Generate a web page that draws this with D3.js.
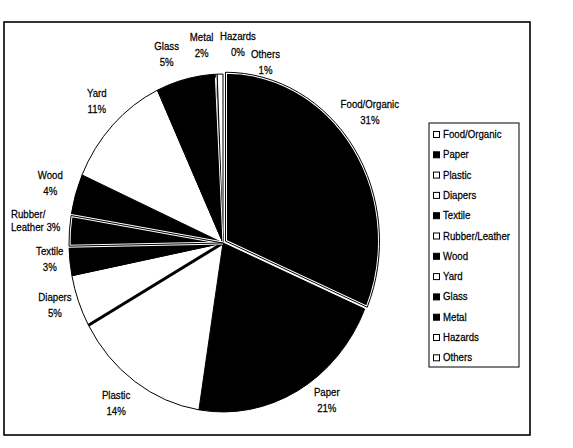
<!DOCTYPE html>
<html>
<head>
<meta charset="utf-8">
<script src="https://cdn.jsdelivr.net/npm/d3@7"></script>
<style>
  body { margin: 0; background: #fff; }
  text { font-family: "Liberation Sans Narrow", "Arial Narrow", "Liberation Sans", Arial, sans-serif; font-size: 11.5px; fill: #000; stroke: #000; stroke-width: 0.25px; }
</style>
</head>
<body>
<svg id="chart" width="573" height="448"></svg>
<script>
// waste composition, percent of total (slice sizes)
const categories = ["Food/Organic", "Paper", "Plastic", "Diapers", "Textile", "Rubber/Leather",
                    "Wood", "Yard", "Glass", "Metal", "Hazards", "Others"];
const shares = [31.4, 21.1, 14.4, 5.0, 2.8, 2.9, 4.0, 11.4, 4.6, 1.6, 0.2, 0.6];

const w = 573, h = 448;
const cx = 223, cy = 243;
const r = 154;
const sy = 1.097;          // scan is a bit taller than wide
const labelR = r * 1.19;
const narrow = 0.84;       // squeeze to look like Arial Narrow

// slice look in the pie (black/white print)
const pieFill = {
  "Food/Organic": "#000", "Paper": "#000", "Plastic": "#fff", "Diapers": "#fff",
  "Textile": "#000", "Rubber/Leather": "#000", "Wood": "#000", "Yard": "#fff",
  "Glass": "#000", "Metal": "#000", "Hazards": "#fff", "Others": "#fff"
};
const legendFilled = new Set(["Paper", "Textile", "Wood", "Glass", "Metal"]);
const whiteEdged = new Set(["Food/Organic", "Rubber/Leather"]);
const exploded = {"Food/Organic": 3};

// label nudges relative to the label arc
const nudge = {
  "Food/Organic": [-6, -20], "Paper": [15, -19], "Plastic": [-2, -5], "Diapers": [4, -7],
  "Textile": [9, -5], "Wood": [3, -3], "Yard": [5, -2], "Glass": [-3, 3],
  "Metal": [-3, 2], "Hazards": [23, 2], "Others": [46, 20]
};

const data = categories.map((c, i) => ({cat: c, v: shares[i]}));
const total = d3.sum(shares);
const pct = d3.format(".0%");

const svg = d3.select("#chart");

// condensed text block at x,y
function label(x, y, lines, anchor, lead) {
  const t = svg.append("g")
    .attr("transform", `translate(${x},${y}) scale(${narrow},1)`)
    .append("text").attr("text-anchor", anchor);
  lines.forEach((s, i) => t.append("tspan").attr("x", 0).attr("y", i * lead).text(s));
  return t;
}

// outer frame
svg.append("rect")
  .attr("x", 4).attr("y", 22).attr("width", 526).attr("height", 413)
  .attr("fill", "none").attr("stroke", "#000").attr("stroke-width", 1.6);

const pie = d3.pie().sort(null).value(d => d.v);
const arcs = pie(data);
const arc = d3.arc().innerRadius(0).outerRadius(r);

const g = svg.append("g").attr("transform", `translate(${cx},${cy}) scale(1,${sy})`);

function offset(d) {
  const e = exploded[d.data.cat] || 0;
  const a = (d.startAngle + d.endAngle) / 2;
  return `translate(${Math.sin(a) * e},${-Math.cos(a) * e})`;
}

g.selectAll("path.slice")
  .data(arcs)
  .join("path")
  .attr("class", "slice")
  .attr("d", arc)
  .attr("transform", offset)
  .attr("fill", d => pieFill[d.data.cat])
  .attr("stroke", "#000")
  .attr("stroke-width", 1)
  .attr("vector-effect", "non-scaling-stroke");

// heavy edge between plastic and diapers
const dia = arcs.find(d => d.data.cat === "Diapers");
g.append("line")
  .attr("x1", 0).attr("y1", 0)
  .attr("x2", Math.sin(dia.startAngle) * r).attr("y2", -Math.cos(dia.startAngle) * r)
  .attr("stroke", "#000").attr("stroke-width", 3)
  .attr("vector-effect", "non-scaling-stroke");

// thin white seam between metal and the small slices
const met = arcs.find(d => d.data.cat === "Metal");
g.append("line")
  .attr("x1", 0).attr("y1", 0)
  .attr("x2", Math.sin(met.endAngle) * (r - 3)).attr("y2", -Math.cos(met.endAngle) * (r - 3))
  .attr("stroke", "#fff").attr("stroke-width", 1)
  .attr("vector-effect", "non-scaling-stroke");

// slices printed with a white inner rim
const rim = g.selectAll("g.rim")
  .data(arcs.filter(d => whiteEdged.has(d.data.cat)))
  .join("g")
  .attr("class", "rim")
  .attr("transform", offset);
rim.append("path")
  .attr("d", arc)
  .attr("fill", "#000").attr("stroke", "#fff").attr("stroke-width", 3)
  .attr("vector-effect", "non-scaling-stroke");
rim.append("path")
  .attr("d", arc)
  .attr("fill", "none").attr("stroke", "#000").attr("stroke-width", 1)
  .attr("vector-effect", "non-scaling-stroke");

// labels
const lh = 16;
arcs.forEach(d => {
  const a = (d.startAngle + d.endAngle) / 2;
  const c = d.data.cat;
  const p = pct(d.data.v / total);
  if (c === "Rubber/Leather") {
    label(11, 218, ["Rubber/", "Leather  " + p], "start", 13);
    return;
  }
  const n = nudge[c] || [0, 0];
  const x = cx + Math.sin(a) * labelR + n[0];
  const y = cy - Math.cos(a) * labelR * sy + n[1];
  label(x, y - lh / 2 + 4, [c, p], "middle", lh);
});

// legend
const lx = 429, ly = 123, step = 20.3;
svg.append("rect")
  .attr("x", lx).attr("y", ly).attr("width", 90).attr("height", 244)
  .attr("fill", "#fff").attr("stroke", "#000").attr("stroke-width", 1);

const item = svg.selectAll("g.leg")
  .data(categories)
  .join("g")
  .attr("class", "leg")
  .attr("transform", (d, i) => `translate(${lx + 4},${ly + 11 + i * step})`);
item.append("rect")
  .attr("x", 0.5).attr("y", -2.5).attr("width", 6).attr("height", 6)
  .attr("fill", d => legendFilled.has(d) ? "#000" : "#fff")
  .attr("stroke", "#000").attr("stroke-width", 1);
item.append("g")
  .attr("transform", `translate(10,4) scale(${narrow},1)`)
  .append("text")
  .text(d => d);
</script>
</body>
</html>
